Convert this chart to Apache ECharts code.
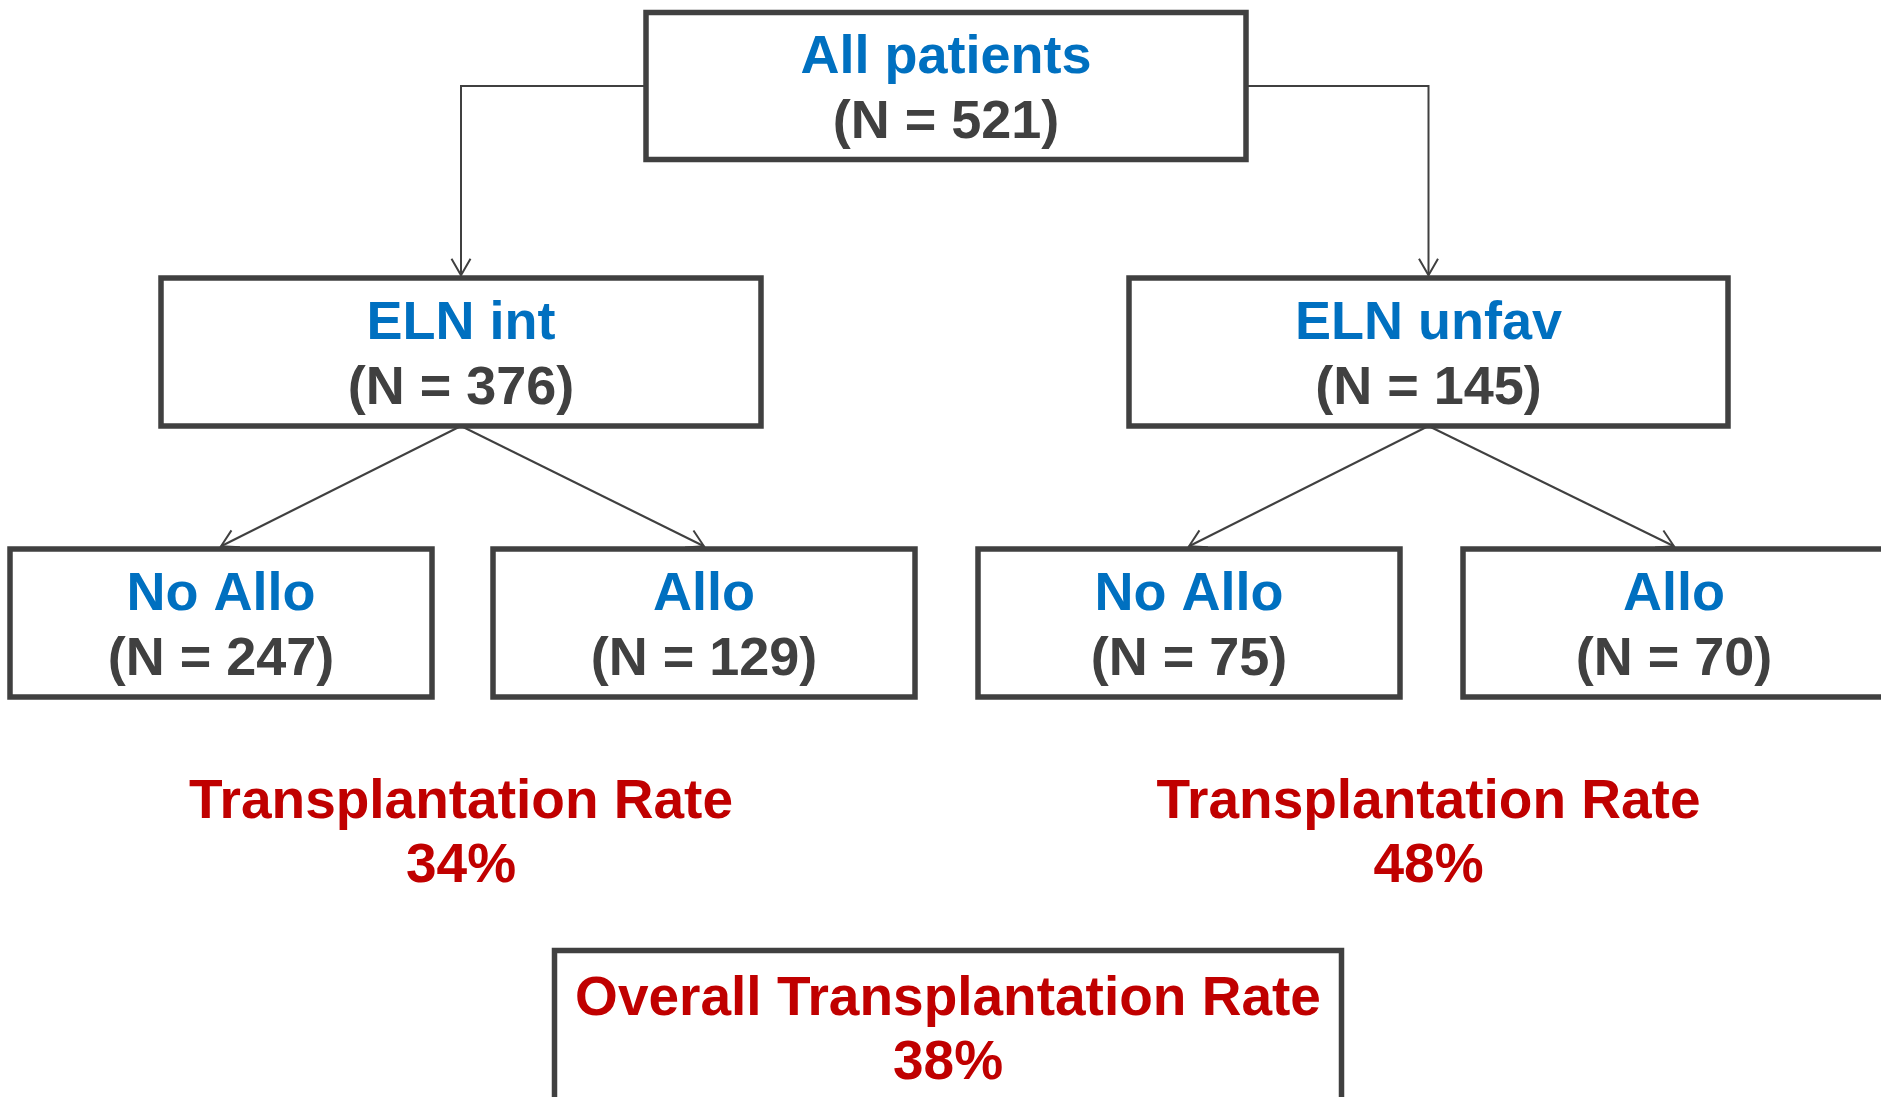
<!DOCTYPE html>
<html>
<head>
<meta charset="utf-8">
<title>Transplantation flow</title>
<script src="https://cdn.jsdelivr.net/npm/echarts@6/dist/echarts.min.js"></script>
<style>
  html, body { margin: 0; padding: 0; background: #fff; }
  #chart { width: 1881px; height: 1097px; }
</style>
</head>
<body>
<div id="chart"></div>
<script>
  // ---- data ----
  const groupNames = ['All patients', 'ELN int', 'ELN unfav', 'No Allo', 'Allo', 'No Allo', 'Allo'];
  const groupCounts = [521, 376, 145, 247, 129, 75, 70];
  const rateTitles = ['Transplantation Rate', 'Transplantation Rate'];
  const rateValues = [34, 48];
  const overallTitle = 'Overall Transplantation Rate';
  const overallValue = 38;

  // ---- layout (centre x, centre y, width, height on the 1881x1097 canvas) ----
  const boxLayout = [
    [946, 86, 600, 147],
    [461, 352, 600, 148],
    [1428.5, 352, 599, 148],
    [221, 623, 422, 148],
    [704, 623, 422, 148],
    [1189, 623, 422, 148],
    [1674, 623, 422, 148]
  ];
  const overallLayout = [948, 1026.5, 787, 152];
  const rateLayout = [[461, 830], [1428.5, 830]];
  // parent -> child, elbow ones leave from the side of the parent
  const links = [[0, 1, true], [0, 2, true], [1, 3, false], [1, 4, false], [2, 5, false], [2, 6, false]];

  const blue = '#0070C0';
  const grey = '#404040';
  const red = '#C00000';
  const font = '"Liberation Sans", Arial, sans-serif';
  const border = 5.5;

  function arrowHead(from, tip) {
    const dx = tip[0] - from[0], dy = tip[1] - from[1];
    const len = Math.sqrt(dx * dx + dy * dy);
    const bx = -dx / len, by = -dy / len;
    const a = Math.PI / 6, l = 19;
    const b1 = [tip[0] + l * (bx * Math.cos(a) - by * Math.sin(a)), tip[1] + l * (bx * Math.sin(a) + by * Math.cos(a))];
    const b2 = [tip[0] + l * (bx * Math.cos(-a) - by * Math.sin(-a)), tip[1] + l * (bx * Math.sin(-a) + by * Math.cos(-a))];
    return [b1, tip, b2];
  }

  let lineData = [];
  links.forEach(([p, c, elbow]) => {
    const [pcx, pcy, pw, ph] = boxLayout[p];
    const [ccx, ccy, cw, ch] = boxLayout[c];
    const tip = [ccx, ccy - ch / 2 - border / 2];
    let coords;
    if (elbow) {
      const sx = ccx < pcx ? pcx - pw / 2 : pcx + pw / 2;
      coords = [[sx, pcy], [ccx, pcy], tip];
    } else {
      coords = [[pcx, pcy + ph / 2], tip];
    }
    lineData.push({ coords: coords });
    lineData.push({ coords: arrowHead(coords[coords.length - 2], tip) });
  });

  // one item per text block; boxed ones get a frame
  let blocks = [];
  groupNames.forEach((name, i) => {
    blocks.push({ lay: boxLayout[i], boxed: true, text: '{t|' + name + '}\n{n|(N = ' + groupCounts[i] + ')}' });
  });
  rateTitles.forEach((t, i) => {
    blocks.push({ lay: [rateLayout[i][0], rateLayout[i][1], 0, 0], boxed: false, text: '{r|' + t + '}\n{r|' + rateValues[i] + '%}' });
  });
  blocks.push({ lay: overallLayout, boxed: true, text: '{r|' + overallTitle + '}\n{r|' + overallValue + '%}' });

  const rich = {
    t: { fill: blue, fontSize: 54, fontWeight: 'bold', fontFamily: font, lineHeight: 65 },
    n: { fill: grey, fontSize: 54, fontWeight: 'bold', fontFamily: font, lineHeight: 65 },
    r: { fill: red, fontSize: 55, fontWeight: 'bold', fontFamily: font, lineHeight: 64 }
  };

  function renderBlock(params, api) {
    const b = blocks[params.dataIndex];
    const c = api.coord([api.value(0), api.value(1)]);
    const s = api.size([api.value(2), api.value(3)]);
    const w = Math.abs(s[0]), h = Math.abs(s[1]);
    const children = [];
    if (b.boxed) {
      children.push({
        type: 'rect',
        shape: { x: c[0] - w / 2, y: c[1] - h / 2, width: w, height: h },
        style: { fill: '#fff', stroke: grey, lineWidth: border }
      });
    }
    children.push({
      type: 'text',
      style: { text: b.text, rich: rich, x: c[0], y: c[1] + 5, align: 'center', verticalAlign: 'middle' }
    });
    return { type: 'group', children: children };
  }

  const chart = echarts.init(document.getElementById('chart'));
  chart.setOption({
    animation: false,
    backgroundColor: '#fff',
    grid: { left: 0, right: 0, top: 0, bottom: 0 },
    xAxis: { type: 'value', min: 0, max: 1881, show: false },
    yAxis: { type: 'value', min: 0, max: 1097, inverse: true, show: false },
    series: [
      {
        type: 'lines',
        coordinateSystem: 'cartesian2d',
        polyline: true,
        silent: true,
        z: 2,
        lineStyle: { color: grey, width: 2, opacity: 1 },
        data: lineData
      },
      {
        type: 'custom',
        coordinateSystem: 'cartesian2d',
        silent: true,
        clip: false,
        z: 3,
        renderItem: renderBlock,
        data: blocks.map(b => b.lay)
      }
    ]
  });
</script>
</body>
</html>
